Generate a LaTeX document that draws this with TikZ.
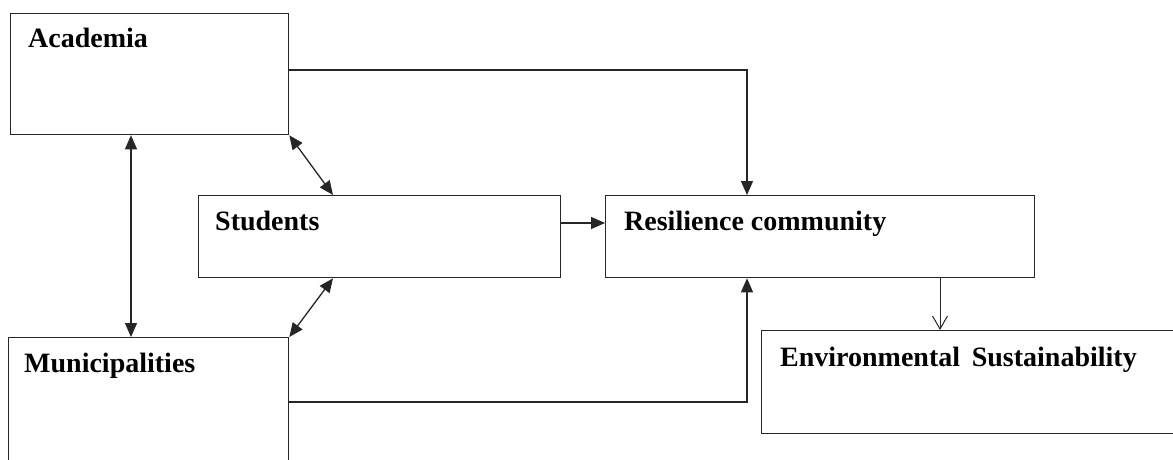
\documentclass[tikz,border=0pt]{standalone}
\usepackage{fontspec}
\setmainfont{Liberation Serif}
\usetikzlibrary{arrows.meta,calc}
\begin{document}
\begin{tikzpicture}[x=1pt,y=-1pt,
  box/.style={draw=black!85,line width=1.3pt,rectangle,anchor=north west,inner sep=0pt},
  lbl/.style={anchor=base west,inner sep=0pt,font=\fontsize{28}{32}\selectfont\bfseries},
  conn/.style={draw=black!85,line width=1.3pt},
  tipA/.style={conn,-{Triangle[length=14pt,width=12pt]}},
  tipAB/.style={conn,{Triangle[length=14pt,width=12pt]}-{Triangle[length=14pt,width=12pt]}},
  tipV/.style={conn,line width=1pt,-{Straight Barb[length=13pt,width=15pt,line width=1pt]}}]
\useasboundingbox (0,0) rectangle (1173,460);
\clip (0,0) rectangle (1173,460);
\fill[white] (0,0) rectangle (1173,460);

% boxes
\node[box,minimum width=278pt,minimum height=121pt] (aca) at (10,13) {};
\node[box,minimum width=280pt,minimum height=160pt] (mun) at (8,337) {};
\node[box,minimum width=362pt,minimum height=82pt] (stu) at (198,195) {};
\node[box,minimum width=429pt,minimum height=82pt] (res) at (605,195) {};
\node[box,minimum width=440pt,minimum height=103pt] (env) at (761,330) {};

% box titles
\node[lbl] (acaT) at ($(aca.north west)+(18,35)$) {Academia};
\node[lbl] (munT) at ($(mun.north west)+(16,35)$) {Municipalities};
\node[lbl] (stuT) at ($(stu.north west)+(17,35)$) {Students};
\node[lbl] (resT) at ($(res.north west)+(19,35)$) {Resilience community};
\node[lbl] (envT) at ($(env.north west)+(19,36)$) {Environmental\, Sustainability};

% connectors
\coordinate (resTop) at ($(res.north west)+(142,0)$);
\coordinate (resBot) at ($(res.south west)+(142,0)$);
\coordinate (stuTop) at ($(stu.north west)+(135,0)$);
\coordinate (stuBot) at ($(stu.south west)+(135,0)$);
\coordinate (acaBot) at ($(aca.south west)+(121,0)$);
\coordinate (resEnv) at ($(res.south west)+(335,0)$);

\draw[tipA] ($(aca.north east)+(0,57)$) -| (resTop);
\draw[tipAB] (acaBot) -- (acaBot |- mun.north);
\draw[tipAB] (aca.south east) -- (stuTop);
\draw[tipA] ($(stu.north east)+(0,28)$) -- ($(res.north west)+(0,28)$);
\draw[tipA] ($(mun.north east)+(0,65)$) -| (resBot);
\draw[tipAB] (stuBot) -- (mun.north east);
\draw[tipV] (resEnv) -- (resEnv |- env.north);
\end{tikzpicture}
\end{document}
